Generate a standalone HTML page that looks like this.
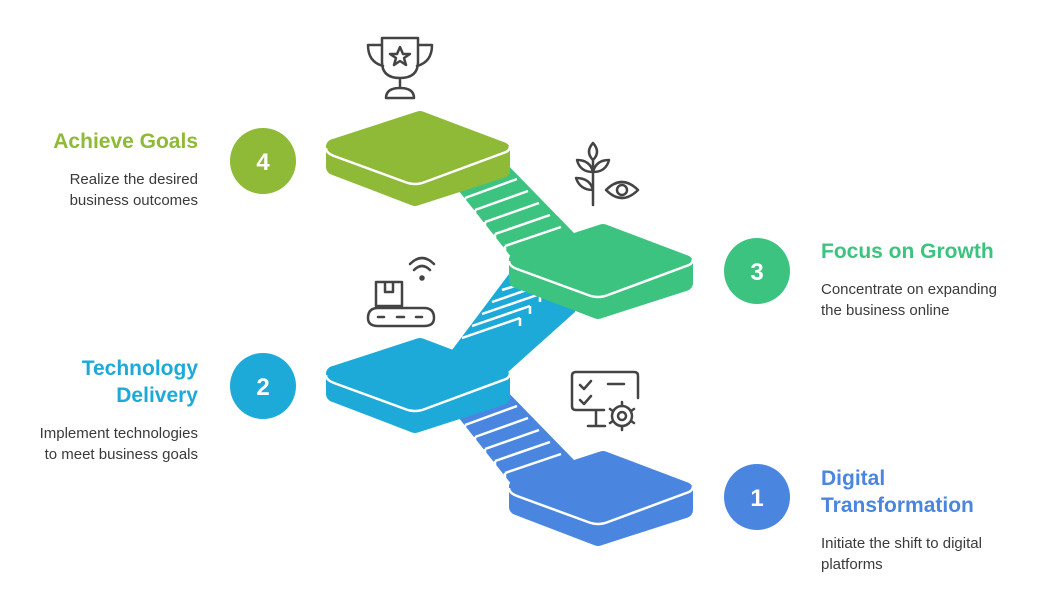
<!DOCTYPE html>
<html><head><meta charset="utf-8"><style>
body{margin:0;background:#fff;width:1044px;height:610px;overflow:hidden;font-family:"Liberation Sans",sans-serif;position:relative}
.t{position:absolute;font-weight:bold;font-size:21px;line-height:27px}
.d{position:absolute;font-size:15px;line-height:21px;color:#3a3a3a}
.r{text-align:right}
</style></head><body>
<svg width="1044" height="610" style="position:absolute;left:0;top:0">
<defs>
<g id="plat">
<polygon points="4,2 4,22 85,53 172,25 172,5 85,33" stroke-linejoin="round" stroke-width="16"/>
<polygon points="4,2 90,-26 172,5 85,33" stroke-linejoin="round" stroke-width="16"/>
<path d="M-4,3 Q-4,8 4,11 L75,37 Q85,41 95,37 L176,7 Q180,5 180,1" fill="none" stroke="#fff" stroke-width="2.5"/>
</g>
<g id="stairG">
<polygon points="447,176 500,157 574,233 518,260 512,258"/>
<g stroke="#fff" stroke-width="2.5" fill="none">
<path d="M455,186 L506,168 M465,198 L517,179 M475,210 L528,191 M485,222 L539,203 M495,234 L550,215 M505,246 L561,227"/>
<path d="M455,186 L455,193 M465,198 L465,205 M475,210 L475,217 M485,222 L485,229 M495,234 L495,241 M505,246 L505,253"/>
</g>
</g>
</defs>
<polygon points="452,350 512,270 575,290 575,312 508,372" fill="#1eaad8"/>
<g stroke="#fff" stroke-width="2.5" fill="none">
<path d="M462,338 L520,318 M472,326 L530,306 M482,314 L540,294 M492,302 L550,282 M502,290 L560,272"/>
<path d="M520,318 L520,326 M530,306 L530,314 M540,294 L540,302 M550,282 L550,290 M560,272 L560,280"/>
</g>
<use href="#stairG" fill="#3cc37f"/>
<use href="#stairG" fill="#4a86e0" transform="translate(0,227)"/>
<use href="#plat" fill="#8fba38" stroke="#8fba38" transform="translate(330,145)"/>
<use href="#plat" fill="#3cc37f" stroke="#3cc37f" transform="translate(513,258)"/>
<use href="#plat" fill="#1eaad8" stroke="#1eaad8" transform="translate(330,372)"/>
<use href="#plat" fill="#4a86e0" stroke="#4a86e0" transform="translate(513,485)"/>
<circle cx="263" cy="161" r="33" fill="#8fba38"/>
<circle cx="757" cy="271" r="33" fill="#3cc37f"/>
<circle cx="263" cy="386" r="33" fill="#1eaad8"/>
<circle cx="757" cy="497" r="33" fill="#4a86e0"/>
<g font-family="Liberation Sans,sans-serif" font-weight="bold" font-size="24" fill="#fff" text-anchor="middle">
<text x="263" y="170">4</text><text x="757" y="280">3</text><text x="263" y="395">2</text><text x="757" y="506">1</text></g>
<g fill="none" stroke="#444" stroke-width="2.5" stroke-linecap="round" stroke-linejoin="round">
<path d="M382,38 L418,38 L418,62 Q418,78 400,78 Q382,78 382,62 Z M382,45 L368,45 Q368,62 383,66 M418,45 L432,45 Q432,62 417,66 M400,78 L400,88 M386,98 Q386,88 400,88 Q414,88 414,98 Z"/>
<path d="M400,47 L403,54 L410,54 L404,58 L406,65 L400,61 L394,65 L396,58 L390,54 L397,54 Z"/>
<path d="M593,205 L593,160 M593,160 Q585,152 593,143 Q601,152 593,160 M593,172 Q580,172 577,160 Q590,160 593,172 M593,172 Q606,172 609,160 Q596,160 593,172 M593,190 Q580,190 576,178 Q590,178 593,190 M606,190 Q622,174 638,190 Q622,206 606,190 Z"/>
<circle cx="622" cy="190" r="5"/>
<path d="M376,282 L402,282 L402,306 L376,306 Z M385,282 L385,292 L393,292 L393,282 M368,318 Q368,308 378,308 L424,308 Q434,308 434,318 Q434,326 424,326 L378,326 Q368,326 368,318 Z M378,317 L384,317 M397,317 L404,317 M416,317 L422,317 M414,270 Q422,262 430,270 M410,264 Q422,252 434,264"/>
<circle cx="422" cy="278" r="1.5" fill="#444"/>
<path d="M638,398 L638,376 Q638,372 634,372 L576,372 Q572,372 572,376 L572,406 Q572,410 576,410 L604,410 M596,410 L596,426 M588,426 L605,426 M580,385 L584,389 L591,381 M580,400 L584,404 L591,396 M608,384 L624,384"/>
<circle cx="622" cy="416" r="10"/>
<path d="M622,402 L622,406 M622,426 L622,430 M610,409 L613,411 M631,421 L634,423 M610,423 L613,421 M631,411 L634,409"/>
<circle cx="622" cy="416" r="4"/>
</g>
</svg>
<div class="t r" style="right:846px;top:128px;color:#8fba38">Achieve Goals</div>
<div class="d r" style="right:846px;top:169px">Realize the desired<br>business outcomes</div>
<div class="t" style="left:821px;top:238px;color:#3cc37f">Focus on Growth</div>
<div class="d" style="left:821px;top:279px">Concentrate on expanding<br>the business online</div>
<div class="t r" style="right:846px;top:355px;color:#1eaad8">Technology<br>Delivery</div>
<div class="d r" style="right:846px;top:423px">Implement technologies<br>to meet business goals</div>
<div class="t" style="left:821px;top:465px;color:#4a86e0">Digital<br>Transformation</div>
<div class="d" style="left:821px;top:533px">Initiate the shift to digital<br>platforms</div>
</body></html>
